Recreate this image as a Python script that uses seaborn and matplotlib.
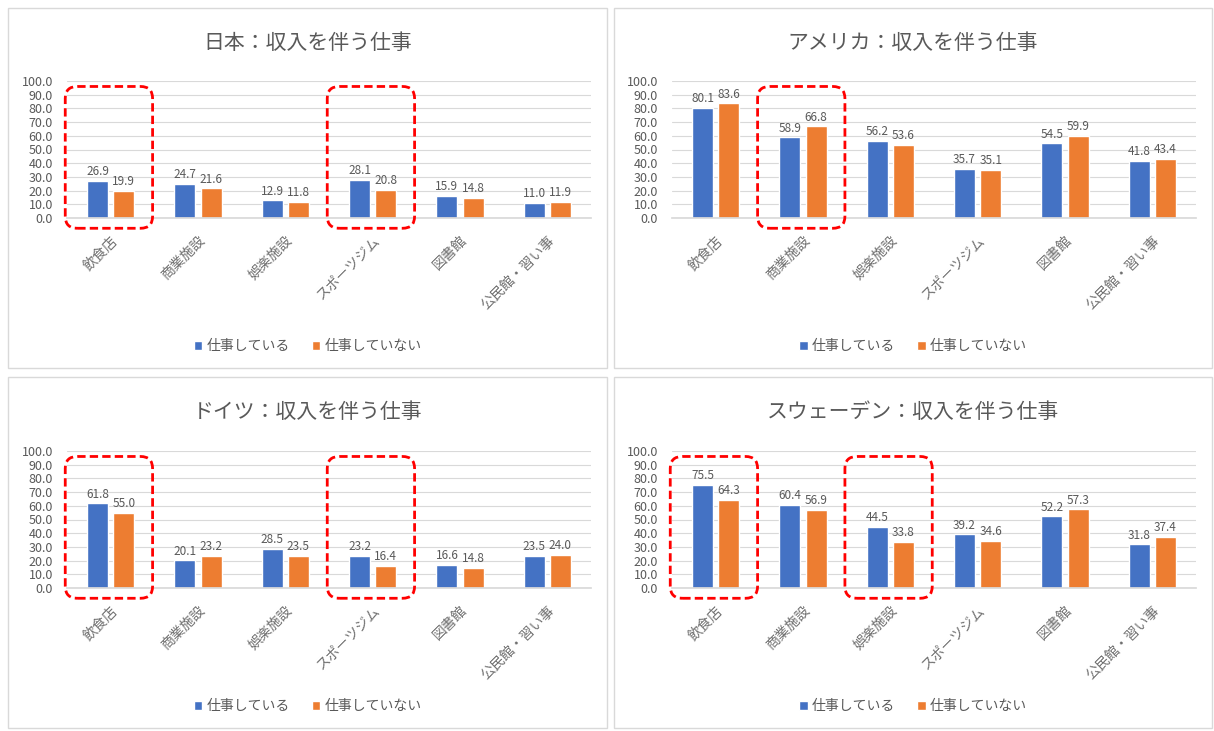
import numpy as np
import pandas as pd
import matplotlib
matplotlib.use("Agg")
import matplotlib.pyplot as plt
import seaborn as sns
from matplotlib.patches import FancyBboxPatch, Rectangle, Patch
from matplotlib.transforms import IdentityTransform

# ---------------- data ----------------
categories = ["飲食店", "商業施設", "娯楽施設", "スポーツジム", "図書館", "公民館・習い事"]
series_names = ["仕事している", "仕事していない"]

titles = ["日本：収入を伴う仕事", "アメリカ：収入を伴う仕事",
          "ドイツ：収入を伴う仕事", "スウェーデン：収入を伴う仕事"]

japan_working = [26.9, 24.7, 12.9, 28.1, 15.9, 11.0]
japan_not = [19.9, 21.6, 11.8, 20.8, 14.8, 11.9]
usa_working = [80.1, 58.9, 56.2, 35.7, 54.5, 41.8]
usa_not = [83.6, 66.8, 53.6, 35.1, 59.9, 43.4]
germany_working = [61.8, 20.1, 28.5, 23.2, 16.6, 23.5]
germany_not = [55.0, 23.2, 23.5, 16.4, 14.8, 24.0]
sweden_working = [75.5, 60.4, 44.5, 39.2, 52.2, 31.8]
sweden_not = [64.3, 56.9, 33.8, 34.6, 57.3, 37.4]

highlights = [[0, 3], [1], [0, 3], [0, 2]]

panel_data = [(japan_working, japan_not), (usa_working, usa_not),
              (germany_working, germany_not), (sweden_working, sweden_not)]

# ---------------- style ----------------
sns.set_theme(style="white")
plt.rcParams['font.family'] = ['Noto Sans CJK JP', 'DejaVu Sans']

BLUE = "#4472C4"
ORANGE = "#ED7D31"
TXT = "#595959"
GRID = "#D9D9D9"

W, H = 1214, 731
DPI = 100
fig = plt.figure(figsize=(W / DPI, H / DPI), dpi=DPI)
fig.patch.set_facecolor("white")


def fx(px):
    return px / W


def fy(py):
    return 1 - py / H


# panel frames (x0, y0, x1, y1) in pixels
panels = [(8, 8, 607, 368), (614, 8, 1212, 368), (8, 377, 607, 728), (614, 377, 1212, 728)]
# axes areas (x0, y0, x1, y1) in pixels
axes_px = [(67, 81, 591, 218), (672, 81, 1196, 218), (67, 451, 591, 588), (672, 451, 1196, 588)]

for (x0, y0, x1, y1) in panels:
    fig.add_artist(Rectangle((fx(x0), fy(y1)), fx(x1 - x0), (y1 - y0) / H,
                             transform=fig.transFigure, facecolor="white",
                             edgecolor=GRID, linewidth=1.0, zorder=0))

for i in range(4):
    x0, y0, x1, y1 = axes_px[i]
    ax = fig.add_axes([fx(x0), fy(y1), fx(x1 - x0), (y1 - y0) / H])
    working, notw = panel_data[i]
    df = pd.DataFrame({
        "category": categories * 2,
        "series": [series_names[0]] * len(categories) + [series_names[1]] * len(categories),
        "value": list(working) + list(notw),
    })
    sns.barplot(data=df, x="category", y="value", hue="series", order=categories,
                hue_order=series_names, palette=[BLUE, ORANGE], width=0.6, gap=0.2,
                ax=ax, legend=False, errorbar=None, saturation=1)
    ax.set_ylim(0, 100)
    ax.set_xlim(-0.5, len(categories) - 0.5)
    ax.set_yticks(np.arange(0, 101, 10))
    ax.set_yticklabels([f"{v:.1f}" for v in np.arange(0, 101, 10)], fontsize=9, color=TXT)
    ax.yaxis.grid(True, color=GRID, linewidth=0.8)
    ax.set_axisbelow(True)
    for s in ["left", "right", "top"]:
        ax.spines[s].set_visible(False)
    ax.spines["bottom"].set_color(GRID)
    ax.tick_params(axis="y", length=0, pad=10)
    ax.tick_params(axis="x", length=0, pad=11)
    ax.set_xlabel("")
    ax.set_ylabel("")
    ax.set_xticks(range(len(categories)))
    ax.set_xticklabels(categories, rotation=45, ha="right", rotation_mode="anchor",
                       fontsize=10, color="#6F6F6F")
    for lbl in ax.get_xticklabels():
        lbl.set_x(lbl.get_position()[0])
    for cont in ax.containers:
        ax.bar_label(cont, fmt="%.1f", padding=2, fontsize=8.5, color=TXT)

    # title
    px0, py0, px1, py1 = panels[i]
    fig.text(fx((px0 + px1) / 2), fy(py0 + 35), titles[i], ha="center", va="center",
             fontsize=15, color=TXT)
    # legend
    handles = [Patch(facecolor=BLUE, label=series_names[0]),
               Patch(facecolor=ORANGE, label=series_names[1])]
    fig.legend(handles=handles, loc="center", ncol=2, frameon=False,
               bbox_to_anchor=(fx((px0 + px1) / 2), fy(py1 - 22)),
               fontsize=10, handlelength=0.6, handleheight=0.6, handletextpad=0.3,
               columnspacing=1.6, labelcolor=TXT)

    # dashed highlight boxes
    fig.canvas.draw()
    for c in highlights[i]:
        (dx0, dy0) = ax.transData.transform((c - 0.52, -7.5))
        (dx1, dy1) = ax.transData.transform((c + 0.48, 96))
        box = FancyBboxPatch((dx0 + 10, dy0 + 10), (dx1 - dx0) - 20, (dy1 - dy0) - 20,
                             boxstyle="round,pad=10,rounding_size=12",
                             transform=IdentityTransform(), fill=False,
                             edgecolor="#FF0000", linewidth=2.0, linestyle=(0, (3, 1.5)),
                             clip_on=False, zorder=10)
        fig.add_artist(box)

fig.savefig("out.png", dpi=DPI, facecolor="white")
